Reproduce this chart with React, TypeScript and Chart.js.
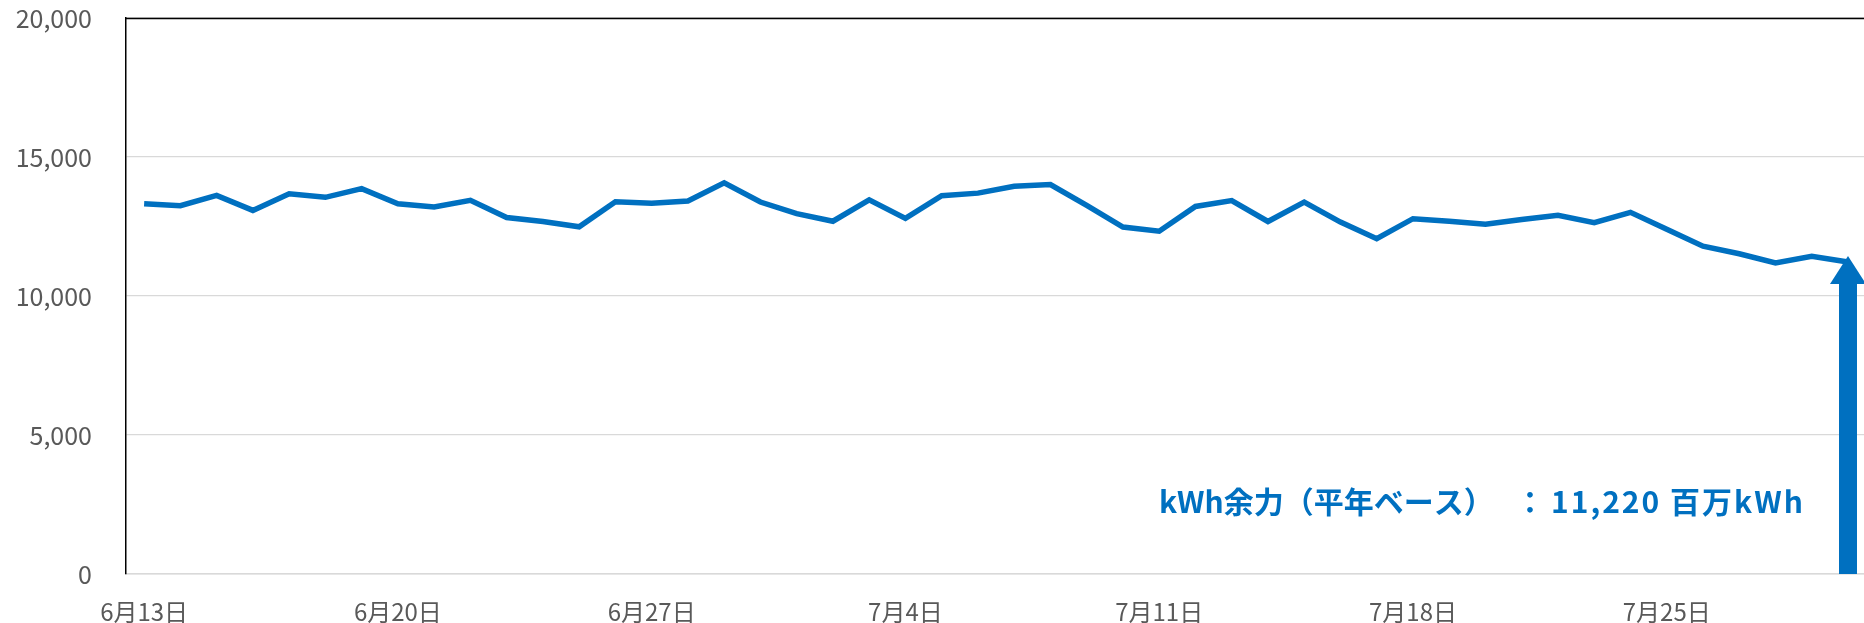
import React, { useEffect, useRef } from "react";
import { Chart, registerables } from "chart.js";

Chart.register(...registerables);

const categories: string[] = [
  "6月13日", "6月14日", "6月15日", "6月16日", "6月17日", "6月18日", "6月19日",
  "6月20日", "6月21日", "6月22日", "6月23日", "6月24日", "6月25日", "6月26日",
  "6月27日", "6月28日", "6月29日", "6月30日", "7月1日", "7月2日", "7月3日",
  "7月4日", "7月5日", "7月6日", "7月7日", "7月8日", "7月9日", "7月10日",
  "7月11日", "7月12日", "7月13日", "7月14日", "7月15日", "7月16日", "7月17日",
  "7月18日", "7月19日", "7月20日", "7月21日", "7月22日", "7月23日", "7月24日",
  "7月25日", "7月26日", "7月27日", "7月28日", "7月29日", "7月30日",
];

const kwhMargin: number[] = [
  13320, 13250, 13620, 13080, 13680, 13550, 13860,
  13320, 13200, 13440, 12820, 12680, 12490, 13390,
  13340, 13420, 14070, 13380, 12960, 12690, 13460,
  12790, 13610, 13700, 13950, 14010, 13260, 12480,
  12330, 13220, 13430, 12680, 13380, 12660, 12060,
  12780, 12690, 12580, 12750, 12900, 12640, 13010,
  12400, 11790, 11520, 11190, 11430, 11220,
];

const shownTickLabels: string[] = ["6月13日", "6月20日", "6月27日", "7月4日", "7月11日", "7月18日", "7月25日"];

const yMin = 0;
const yMax = 20000;
const yStep = 5000;

const annotationTitle = "kWh余力（平年ベース）";
const annotationColon = "：";
const annotationValue = "11,220 百万kWh";

const BLUE = "#0070C0";
const FONT = "'Noto Sans CJK JP', 'Noto Sans', sans-serif";

const overlayPlugin = {
  id: "overlay",
  afterDatasetsDraw(chart: any) {
    const { ctx, chartArea, scales } = chart;
    const xs = scales.x;
    const ys = scales.y;
    ctx.save();
    // top border of plot area
    ctx.strokeStyle = "#000000";
    ctx.lineWidth = 1.5;
    ctx.beginPath();
    ctx.moveTo(chartArea.left, chartArea.top + 0.5);
    ctx.lineTo(chartArea.right, chartArea.top + 0.5);
    ctx.stroke();

    // arrow at the last point
    const li = kwhMargin.length - 1;
    const ax = xs.getPixelForValue(li);
    const tip = ys.getPixelForValue(kwhMargin[li]) - 6;
    const base = ys.getPixelForValue(0);
    const shaftW = 18;
    const headW = 36;
    const headH = 28;
    ctx.fillStyle = BLUE;
    ctx.fillRect(ax - shaftW / 2, tip + headH - 1, shaftW, base - tip - headH + 1);
    ctx.beginPath();
    ctx.moveTo(ax, tip);
    ctx.lineTo(ax + headW / 2, tip + headH);
    ctx.lineTo(ax - headW / 2, tip + headH);
    ctx.closePath();
    ctx.fill();

    // annotation text
    ctx.font = `bold 30px ${FONT}`;
    ctx.textBaseline = "middle";
    ctx.textAlign = "left";
    const ty = 502;
    ctx.fillText(annotationTitle, 1159, ty);
    ctx.textAlign = "center";
    ctx.fillText(annotationColon, 1530, ty);
    ctx.textAlign = "left";
    try {
      (ctx as any).letterSpacing = "2px";
    } catch (e) {}
    ctx.fillText(annotationValue, 1551, ty);
    ctx.restore();
  },
};

export default function App() {
  const canvasRef = useRef<HTMLCanvasElement | null>(null);

  useEffect(() => {
    if (!canvasRef.current) return;
    const chart = new Chart(canvasRef.current, {
      type: "line",
      data: {
        labels: categories,
        datasets: [
          {
            label: "kWh余力",
            data: kwhMargin,
            borderColor: BLUE,
            backgroundColor: BLUE,
            borderWidth: 5.5,
            borderJoinStyle: "miter",
            pointRadius: 0,
            tension: 0,
            fill: false,
          },
        ],
      },
      options: {
        responsive: false,
        animation: false,
        layout: { autoPadding: false, padding: { top: 18, right: 0, left: 0, bottom: 0 } },
        plugins: { legend: { display: false }, tooltip: { enabled: false } },
        scales: {
          x: {
            type: "category",
            offset: true,
            grid: { display: false, drawTicks: false },
            border: { display: true, color: "#d9d9d9", width: 1.5 },
            ticks: {
              autoSkip: false,
              maxRotation: 0,
              minRotation: 0,
              padding: 23,
              color: "#595959",
              font: { family: FONT, size: 24 },
              callback: (_v: any, i: number) =>
                shownTickLabels.includes(categories[i]) ? categories[i] : "",
            },
            afterFit: (scale: any) => {
              scale.height = 49;
            },
          },
          y: {
            min: yMin,
            max: yMax,
            grid: {
              color: "#d9d9d9",
              lineWidth: 1.2,
              drawTicks: true,
              tickLength: 31,
              tickColor: "rgba(0,0,0,0)",
            },
            border: { display: true, color: "#000000", width: 1.5 },
            ticks: {
              stepSize: yStep,
              padding: 3,
              color: "#595959",
              font: { family: FONT, size: 25 },
            },
            afterFit: (scale: any) => {
              scale.width = 126;
            },
          },
        },
      },
      plugins: [overlayPlugin],
    });
    return () => chart.destroy();
  }, []);

  return (
    <div style={{ position: "absolute", left: 0, top: 0, width: 1864, height: 623, overflow: "hidden", background: "#fff" }}>
      <canvas ref={canvasRef} width={1871} height={623} style={{ display: "block" }} />
    </div>
  );
}
